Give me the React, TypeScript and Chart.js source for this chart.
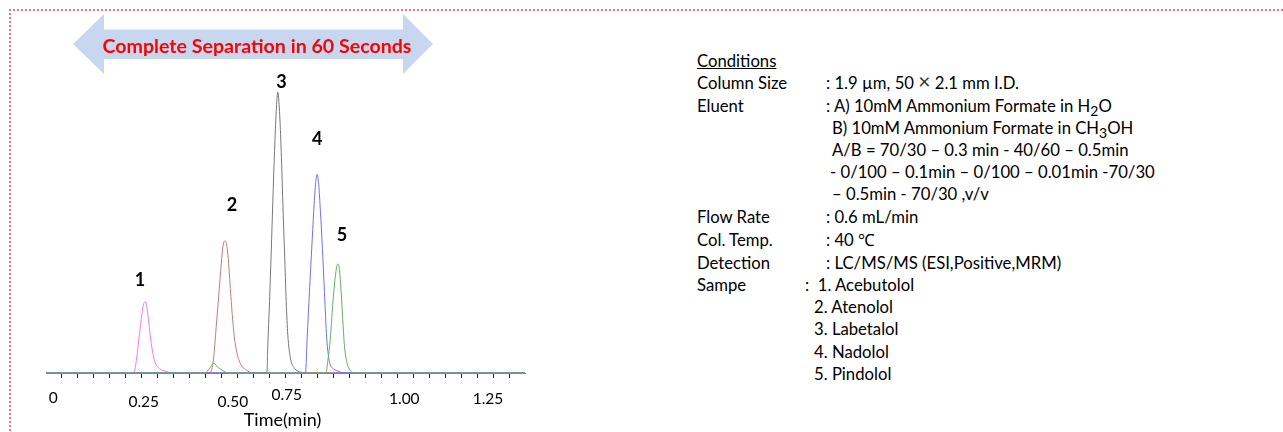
import React, { useEffect, useRef } from "react";
import { Chart, registerables } from "chart.js";

Chart.register(...registerables);

// ---- data (time in min, relative intensity) ----
const peak1Time = [0, 0.2719, 0.2781, 0.2844, 0.2906, 0.2969, 0.3031, 0.3103, 0.3156, 0.3219, 0.3281, 0.3344, 0.3406, 0.35, 0.3625, 0.3813, 0.3938, 1.5];
const peak1Signal = [0, 0, 1, 5.4, 11, 16.7, 21.7, 23.8, 22.1, 16.7, 11, 6.7, 3.8, 2, 1, 0.4, 0, 0];

const peak2Time = [0, 0.5125, 0.5228, 0.5272, 0.5322, 0.5406, 0.549, 0.554, 0.5603, 0.5666, 0.5719, 0.5791, 0.5875, 0.5959, 0.6084, 0.6272, 0.6478, 1.5];
const peak2Signal = [0, 0, 3.2, 7.7, 14.3, 25.4, 36.6, 42.1, 44.1, 42.1, 36.6, 25.4, 14.3, 7.7, 3.2, 1, 0, 0];

const peak3Time = [0, 0.6916, 0.6947, 0.7, 0.7053, 0.7103, 0.7156, 0.7209, 0.7259, 0.7313, 0.7366, 0.7416, 0.7469, 0.7522, 0.7572, 0.7656, 0.7781, 0.7938, 0.81, 1.5];
const peak3Signal = [0, 0, 9.3, 23.8, 40.4, 57.1, 73.8, 87.1, 93.6, 87.1, 73.8, 57.1, 40.4, 23.8, 12.7, 4.9, 1.6, 0.4, 0, 0];

const peak4Time = [0, 0.8125, 0.8178, 0.825, 0.8322, 0.8384, 0.8438, 0.849, 0.8541, 0.8594, 0.8656, 0.8719, 0.8791, 0.8875, 0.8978, 0.9134, 0.9344, 1.5];
const peak4Signal = [0, 0, 11.6, 27.1, 41.6, 53.8, 62.7, 66.2, 62.7, 53.8, 41.6, 27.1, 11.6, 3.8, 1.6, 0.7, 0, 0];

const peak5Time = [0, 0.4969, 0.5125, 0.525, 0.5384, 0.554, 0.5697, 0.8772, 0.8822, 0.8906, 0.8978, 0.9053, 0.9103, 0.9134, 0.9178, 0.9228, 0.9291, 0.9344, 0.9416, 0.95, 0.9656, 1.5];
const peak5Signal = [0, 0, 1.6, 3.2, 1.9, 0.8, 0, 0, 3.8, 11.6, 22.7, 31.6, 35.4, 36.3, 35.4, 29.3, 18.2, 9.3, 3.8, 1.3, 0, 0];

const seriesNames = ["Acebutolol", "Atenolol", "Labetalol", "Nadolol", "Pindolol"];
const seriesColors = ["#ff70ff", "#c47a7a", "#777777", "#6e6eff", "#66ad66"];

const peakLabels = ["1", "2", "3", "4", "5"];
const peakLabelTime = [0.294, 0.582, 0.7375, 0.849, 0.927];
const peakLabelLevel = [31.0, 55.8, 96.8, 77.9, 46.0];

const xTickLabels = ["0", "0.25", "0.50", "0.75", "1.00", "1.25"];
const xTickLabelAt = [0.0228, 0.306, 0.585, 0.754, 1.122, 1.384];
const xTickLabelDrop = [25, 28.7, 28.7, 22, 26.3, 26.3];

const xTitle = "Time(min)";
const bannerText = "Complete Separation in 60 Seconds";

const FONT = "Lato, 'Open Sans', sans-serif";

const textPlugin = {
  id: "chromText",
  afterDraw(chart: any) {
    const ctx = chart.ctx;
    const xs = chart.scales.x;
    const ys = chart.scales.y;
    ctx.save();
    ctx.textAlign = "center";
    ctx.textBaseline = "middle";
    ctx.fillStyle = "#000";
    ctx.font = `bold 18px ${FONT}`;
    peakLabels.forEach((l, i) => {
      ctx.fillText(l, xs.getPixelForValue(peakLabelTime[i]), ys.getPixelForValue(peakLabelLevel[i]));
    });
    ctx.font = `15.5px ${FONT}`;
    const base = ys.getPixelForValue(0);
    xTickLabels.forEach((l, i) => {
      ctx.fillText(l, xs.getPixelForValue(xTickLabelAt[i]), base + xTickLabelDrop[i]);
    });
    ctx.font = `18px ${FONT}`;
    ctx.fillText(xTitle, (xs.left + xs.right) / 2 - 3, base + 47);
    ctx.restore();
  },
};

function ChromChart() {
  const ref = useRef<HTMLCanvasElement | null>(null);
  useEffect(() => {
    if (!ref.current) return;
    const times = [peak1Time, peak2Time, peak3Time, peak4Time, peak5Time];
    const sigs = [peak1Signal, peak2Signal, peak3Signal, peak4Signal, peak5Signal];
    const order = [4, 3, 2, 1, 0];
    const datasets = order.map((i) => ({
      label: seriesNames[i],
      data: times[i].map((t, k) => ({ x: t, y: sigs[i][k] })),
      borderColor: seriesColors[i],
      borderWidth: 1,
      pointRadius: 0,
      cubicInterpolationMode: "monotone" as const,
      fill: false,
      clip: false as any,
    }));
    const chart = new Chart(ref.current, {
      type: "line",
      data: { datasets },
      options: {
        responsive: false,
        animation: false,
        events: [],
        layout: { padding: { left: 46, right: 35, top: 73, bottom: 0 } },
        plugins: { legend: { display: false }, tooltip: { enabled: false } },
        scales: {
          x: {
            type: "linear",
            min: 0,
            max: 1.5,
            afterFit: (s: any) => {
              s.height = 59;
            },
            ticks: { display: false, stepSize: 0.05 },
            grid: {
              drawOnChartArea: false,
              drawTicks: true,
              tickLength: 5,
              tickWidth: 1,
              tickColor: (c: any) => (c.index === 0 || c.index === 30 ? "rgba(0,0,0,0)" : "#222"),
            },
            border: { color: "#8a7aa0", width: 1 },
          },
          y: { display: false, min: 0, max: 100 },
        },
      },
      plugins: [textPlugin],
    });
    return () => chart.destroy();
  }, []);
  return (
    <canvas
      ref={ref}
      width={560}
      height={432}
      style={{ position: "absolute", left: 0, top: 0, width: 560, height: 432, display: "block" }}
    />
  );
}

const conditionRows: { label: string; value: React.ReactNode; vx: number; y: number }[] = [
  {
    label: "Column Size",
    value: (
      <>
        : 1.9 µm, 50 <span style={{ fontSize: 21, lineHeight: "16px", color: "#333" }}>{"\u00D7"}</span> 2.1 mm I.D.
      </>
    ),
    vx: 826,
    y: 83,
  },
  { label: "Eluent", value: <>: A) 10mM Ammonium Formate in H<sub>2</sub>O</>, vx: 826, y: 105.5 },
  { label: "", value: <>B) 10mM Ammonium Formate in CH<sub>3</sub>OH</>, vx: 832, y: 127.5 },
  { label: "", value: "A/B = 70/30 \u2013 0.3 min - 40/60 \u2013 0.5min", vx: 832, y: 150 },
  { label: "", value: "- 0/100 \u2013 0.1min \u2013 0/100 \u2013 0.01min -70/30", vx: 830, y: 172 },
  { label: "", value: "\u2013 0.5min - 70/30 ,v/v", vx: 832, y: 193.5 },
  { label: "Flow Rate", value: ": 0.6 mL/min", vx: 826, y: 216.5 },
  { label: "Col. Temp.", value: ": 40 \u2103", vx: 826, y: 239.5 },
  { label: "Detection", value: ": LC/MS/MS (ESI,Positive,MRM)", vx: 826, y: 262.5 },
  { label: "Sampe", value: ":  1. Acebutolol", vx: 805, y: 284.5 },
  { label: "", value: "2. Atenolol", vx: 814, y: 307 },
  { label: "", value: "3. Labetalol", vx: 814, y: 329 },
  { label: "", value: "4. Nadolol", vx: 814, y: 351.5 },
  { label: "", value: "5. Pindolol", vx: 814, y: 374 },
];

const textStyle: React.CSSProperties = {
  position: "absolute",
  fontFamily: FONT,
  fontSize: 16.7,
  lineHeight: "20px",
  color: "#000",
  whiteSpace: "pre",
};

export default function App() {
  return (
    <div style={{ position: "fixed", left: 0, top: 0, width: 1283, height: 432, background: "#fff", overflow: "hidden" }}>
      <div
        style={{
          position: "absolute",
          left: 9,
          top: 9,
          width: 1400,
          height: 600,
          borderTop: "2px dotted #f4707c",
          borderLeft: "2px dotted #f4707c",
        }}
      />
      <ChromChart />
      <svg width={460} height={90} style={{ position: "absolute", left: 0, top: 0 }}>
        <polygon
          points="73,44 104,14 104,29.5 403,29.5 403,14 433,44 403,74 403,59 104,59 104,74"
          fill="#c6d7ef"
        />
        <text
          x={257}
          y={45}
          textAnchor="middle"
          dominantBaseline="central"
          fill="#ff0000"
          fontFamily={FONT}
          fontWeight="bold"
          fontSize={19.6}
        >
          {bannerText}
        </text>
      </svg>
      <div style={{ ...textStyle, left: 697, top: 61 - 10, textDecoration: "underline" }}>Conditions</div>
      {conditionRows.map((r, i) => (
        <React.Fragment key={i}>
          {r.label ? <div style={{ ...textStyle, left: 697, top: r.y - 10 }}>{r.label}</div> : null}
          <div style={{ ...textStyle, left: r.vx, top: r.y - 10 }}>{r.value}</div>
        </React.Fragment>
      ))}
    </div>
  );
}
